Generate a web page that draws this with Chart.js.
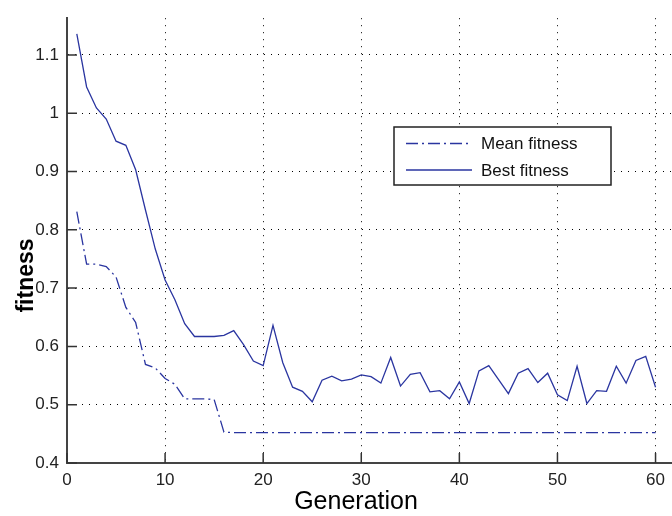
<!DOCTYPE html>
<html>
<head>
<meta charset="utf-8">
<script src="https://cdn.jsdelivr.net/npm/chart.js@4.4.1/dist/chart.umd.min.js"></script>
<style>
  html, body { margin: 0; padding: 0; background: #fff; }
</style>
</head>
<body>
<canvas id="fitnessChart" width="672" height="516"></canvas>
<script>
// --- DATA ---
const generations = [
    1, 2, 3, 4, 5, 6, 7, 8, 9, 10,
    11, 12, 13, 14, 15, 16, 17, 18, 19, 20,
    21, 22, 23, 24, 25, 26, 27, 28, 29, 30,
    31, 32, 33, 34, 35, 36, 37, 38, 39, 40,
    41, 42, 43, 44, 45, 46, 47, 48, 49, 50,
    51, 52, 53, 54, 55, 56, 57, 58, 59, 60
];

const meanFitness = [
    0.831, 0.741, 0.741, 0.737, 0.719, 0.667, 0.641, 0.569, 0.563, 0.545,
    0.535, 0.510, 0.510, 0.510, 0.509, 0.453, 0.452, 0.452, 0.452, 0.452,
    0.452, 0.452, 0.452, 0.452, 0.452, 0.452, 0.452, 0.452, 0.452, 0.452,
    0.452, 0.452, 0.452, 0.452, 0.452, 0.452, 0.452, 0.452, 0.452, 0.452,
    0.452, 0.452, 0.452, 0.452, 0.452, 0.452, 0.452, 0.452, 0.452, 0.452,
    0.452, 0.452, 0.452, 0.452, 0.452, 0.452, 0.452, 0.452, 0.452, 0.452
];

const bestFitness = [
    1.136, 1.045, 1.009, 0.990, 0.952, 0.945, 0.903, 0.834, 0.767, 0.714,
    0.680, 0.639, 0.617, 0.617, 0.617, 0.619, 0.627, 0.603, 0.575, 0.567,
    0.636, 0.572, 0.530, 0.523, 0.505, 0.542, 0.549, 0.541, 0.544, 0.551,
    0.548, 0.537, 0.581, 0.532, 0.552, 0.555, 0.522, 0.524, 0.510, 0.539,
    0.502, 0.558, 0.567, 0.543, 0.519, 0.554, 0.562, 0.538, 0.554, 0.517,
    0.507, 0.566, 0.502, 0.524, 0.523, 0.566, 0.537, 0.576, 0.583, 0.530
];

const xTicks = [0, 10, 20, 30, 40, 50, 60];
const yTicks = [0.4, 0.5, 0.6, 0.7, 0.8, 0.9, 1, 1.1];

const lineColor = "#2a35a0";
const fontFamily = '"Liberation Sans", Arial, sans-serif';

Chart.defaults.font.family = fontFamily;

// MATLAB-ish extras: inward ticks, boxed legend, axis titles
const matlabLook = {
    id: "matlabLook",
    afterDatasetsDraw(chart) {
        const ctx = chart.ctx;
        const area = chart.chartArea;
        const xs = chart.scales.x;
        const ys = chart.scales.y;

        ctx.save();
        ctx.strokeStyle = "#333";
        ctx.lineWidth = 1.5;
        ctx.beginPath();
        xTicks.forEach(v => {
            const px = xs.getPixelForValue(v);
            ctx.moveTo(px, area.bottom);
            ctx.lineTo(px, area.bottom - 10);
        });
        yTicks.forEach(v => {
            const py = ys.getPixelForValue(v);
            ctx.moveTo(area.left, py);
            ctx.lineTo(area.left + 10, py);
        });
        ctx.stroke();

        // legend box
        const bx = 394, by = 127, bw = 217, bh = 58;
        ctx.fillStyle = "#fff";
        ctx.fillRect(bx, by, bw, bh);
        ctx.strokeStyle = "#222";
        ctx.lineWidth = 1.5;
        ctx.strokeRect(bx, by, bw, bh);

        const rows = [143.5, 170];
        chart.data.datasets.forEach((ds, i) => {
            ctx.strokeStyle = ds.borderColor;
            ctx.lineWidth = ds.borderWidth;
            ctx.setLineDash(ds.borderDash || []);
            ctx.beginPath();
            ctx.moveTo(406, rows[i]);
            ctx.lineTo(472, rows[i]);
            ctx.stroke();
            ctx.setLineDash([]);
            ctx.fillStyle = "#111";
            ctx.font = "17px " + fontFamily;
            ctx.textAlign = "left";
            ctx.textBaseline = "middle";
            ctx.fillText(ds.label, 481, rows[i] + 1);
        });

        // axis titles
        ctx.fillStyle = "#000";
        ctx.textAlign = "center";
        ctx.textBaseline = "alphabetic";
        ctx.font = "25px " + fontFamily;
        ctx.fillText("Generation", 356, 509);

        ctx.translate(33, 275.5);
        ctx.rotate(-Math.PI / 2);
        ctx.font = "bold 23px " + fontFamily;
        ctx.fillText("fitness", 0, 0);
        ctx.restore();
    }
};

const ctxFit = document.getElementById("fitnessChart").getContext("2d");
const fitnessChart = new Chart(ctxFit, {
    type: "line",
    data: {
        labels: generations,
        datasets: [
            {
                label: "Mean fitness",
                data: meanFitness,
                borderColor: lineColor,
                borderWidth: 1.3,
                borderDash: [12, 4, 2, 4],
                pointRadius: 0,
                fill: false,
                tension: 0
            },
            {
                label: "Best fitness",
                data: bestFitness,
                borderColor: lineColor,
                borderWidth: 1.3,
                pointRadius: 0,
                fill: false,
                tension: 0
            }
        ]
    },
    options: {
        responsive: false,
        animation: false,
        layout: { padding: { top: 6, left: 0, right: 0, bottom: 0 } },
        plugins: {
            legend: { display: false },
            tooltip: { enabled: false }
        },
        scales: {
            x: {
                type: "linear",
                min: 0,
                max: 61.6,
                afterBuildTicks: s => { s.ticks = xTicks.map(v => ({ value: v })); },
                afterFit: s => { s.height = 53; },
                grid: { color: "#000", lineWidth: 1, drawTicks: false },
                border: { display: true, color: "#444", width: 2, dash: [1, 6] },
                ticks: { color: "#222", font: { size: 17 }, padding: 7, maxRotation: 0 }
            },
            y: {
                min: 0.4,
                max: 1.163,
                afterBuildTicks: s => { s.ticks = yTicks.map(v => ({ value: v })); },
                afterFit: s => { s.width = 67; },
                grid: { color: "#000", lineWidth: 1, drawTicks: false },
                border: { display: true, color: "#444", width: 2, dash: [1, 6] },
                ticks: { color: "#222", font: { size: 17 }, padding: 8, callback: v => String(v) }
            }
        }
    },
    plugins: [matlabLook]
});
</script>
</body>
</html>
